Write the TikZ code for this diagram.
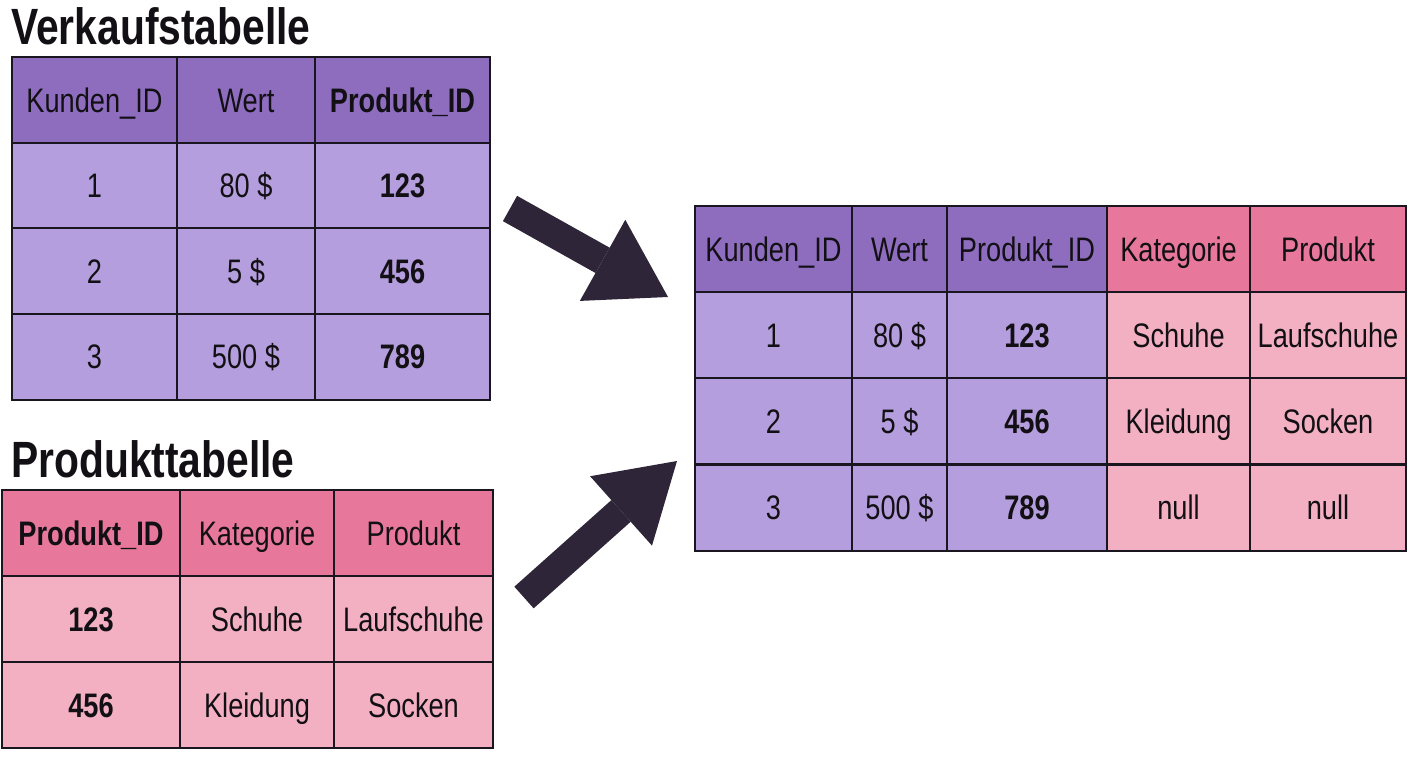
\documentclass[tikz,border=0pt]{standalone}
\usepackage{fontspec}
\setmainfont[FakeStretch=0.8]{Liberation Sans}
\usetikzlibrary{arrows.meta, positioning}
\usepackage{xcolor}
\definecolor{headpurple}{HTML}{8E6DBF}
\definecolor{bodypurple}{HTML}{B59EDD}
\definecolor{headpink}{HTML}{E8789B}
\definecolor{bodypink}{HTML}{F2B0C2}
\definecolor{gridline}{HTML}{1A1620}
\definecolor{arrowdark}{HTML}{2E2538}
\definecolor{textdark}{HTML}{121014}

\begin{document}
\begin{tikzpicture}[
    x=1pt, y=-1pt,
    font=\fontsize{34}{38}\selectfont,
    text=textdark,
    cell/.style={
        rectangle, draw=gridline, line width=2pt,
        outer sep=0pt, inner sep=0pt,
        minimum height=86pt,
        text height=24.5pt, text depth=0pt
    },
    vhead/.style={cell, fill=headpurple},
    vbody/.style={cell, fill=bodypurple},
    phead/.style={cell, fill=headpink},
    pbody/.style={cell, fill=bodypink},
    title/.style={
        anchor=base west, inner sep=0pt,
        font=\fontsize{51}{54}\selectfont\bfseries
    },
    bigarr/.style={
        draw=arrowdark, line width=29pt,
        -{Triangle[length=75pt, width=93pt, line width=0pt]}
    }
]

\useasboundingbox (0,0) rectangle (1408,768);

% ==========================================
% VERKAUFSTABELLE
% ==========================================

\node[title] (vk_title) at (11,45) {Verkaufstabelle};

\node[vhead, minimum width=165pt] (vk_h1) at (94.5,100) {Kunden\_ID};
\node[vhead, minimum width=138pt] (vk_h2) at (246,100) {Wert};
\node[vhead, minimum width=175pt] (vk_h3) at (402.5,100) {\bfseries Produkt\_ID};

\node[vbody, minimum width=165pt] (vk_11) at (94.5,185.5) {1};
\node[vbody, minimum width=138pt] (vk_12) at (246,185.5) {80 \$};
\node[vbody, minimum width=175pt] (vk_13) at (402.5,185.5) {\bfseries 123};

\node[vbody, minimum width=165pt] (vk_21) at (94.5,271) {2};
\node[vbody, minimum width=138pt] (vk_22) at (246,271) {5 \$};
\node[vbody, minimum width=175pt] (vk_23) at (402.5,271) {\bfseries 456};

\node[vbody, minimum width=165pt] (vk_31) at (94.5,356.5) {3};
\node[vbody, minimum width=138pt] (vk_32) at (246,356.5) {500 \$};
\node[vbody, minimum width=175pt] (vk_33) at (402.5,356.5) {\bfseries 789};

% ==========================================
% PRODUKTTABELLE
% ==========================================

\node[title] (pr_title) at (11,477) {Produkttabelle};

\node[phead, minimum width=178pt] (pr_h1) at (91,533) {\bfseries Produkt\_ID};
\node[phead, minimum width=154pt] (pr_h2) at (257,533) {Kategorie};
\node[phead, minimum width=159pt] (pr_h3) at (413.5,533) {Produkt};

\node[pbody, minimum width=178pt] (pr_11) at (91,619) {\bfseries 123};
\node[pbody, minimum width=154pt] (pr_12) at (257,619) {Schuhe};
\node[pbody, minimum width=159pt] (pr_13) at (413.5,619) {Laufschuhe};

\node[pbody, minimum width=178pt] (pr_21) at (91,705) {\bfseries 456};
\node[pbody, minimum width=154pt] (pr_22) at (257,705) {Kleidung};
\node[pbody, minimum width=159pt] (pr_23) at (413.5,705) {Socken};

% ==========================================
% ERGEBNIS (JOIN)
% ==========================================

\node[vhead, minimum width=157pt] (res_h1) at (773.5,249) {Kunden\_ID};
\node[vhead, minimum width=95pt] (res_h2) at (899.5,249) {Wert};
\node[vhead, minimum width=160pt] (res_h3) at (1027,249) {Produkt\_ID};
\node[phead, minimum width=143pt] (res_h4) at (1178.5,249) {Kategorie};
\node[phead, minimum width=156pt] (res_h5) at (1328,249) {Produkt};

\node[vbody, minimum width=157pt] (res_11) at (773.5,335) {1};
\node[vbody, minimum width=95pt] (res_12) at (899.5,335) {80 \$};
\node[vbody, minimum width=160pt] (res_13) at (1027,335) {\bfseries 123};
\node[pbody, minimum width=143pt] (res_14) at (1178.5,335) {Schuhe};
\node[pbody, minimum width=156pt] (res_15) at (1328,335) {Laufschuhe};

\node[vbody, minimum width=157pt] (res_21) at (773.5,421) {2};
\node[vbody, minimum width=95pt] (res_22) at (899.5,421) {5 \$};
\node[vbody, minimum width=160pt] (res_23) at (1027,421) {\bfseries 456};
\node[pbody, minimum width=143pt] (res_24) at (1178.5,421) {Kleidung};
\node[pbody, minimum width=156pt] (res_25) at (1328,421) {Socken};

\node[vbody, minimum width=157pt] (res_31) at (773.5,507.5) {3};
\node[vbody, minimum width=95pt] (res_32) at (899.5,507.5) {500 \$};
\node[vbody, minimum width=160pt] (res_33) at (1027,507.5) {\bfseries 789};
\node[pbody, minimum width=143pt] (res_34) at (1178.5,507.5) {null};
\node[pbody, minimum width=156pt] (res_35) at (1328,507.5) {null};

% ==========================================
% BIG ARROWS
% ==========================================

\coordinate (arr1_from) at (510,208.5);
\coordinate (arr1_to) at (668,297);
\draw[bigarr] (arr1_from) -- (arr1_to);

\coordinate (arr2_from) at (524,597.5);
\coordinate (arr2_to) at (677,461);
\draw[bigarr] (arr2_from) -- (arr2_to);

\end{tikzpicture}
\end{document}
